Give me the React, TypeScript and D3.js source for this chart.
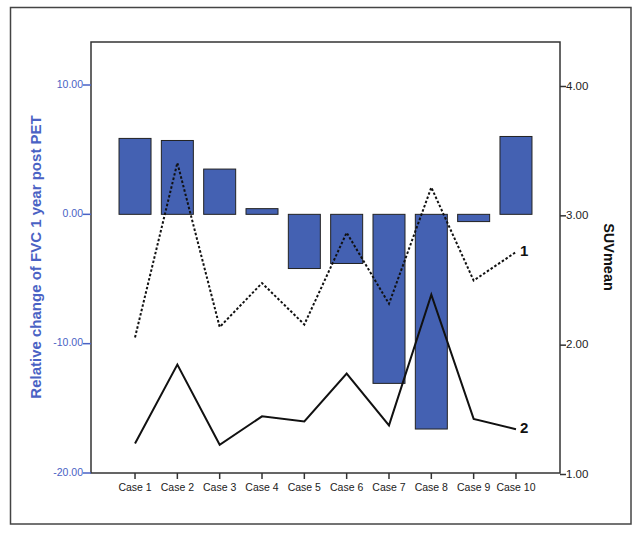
import * as d3 from "d3";

const cases = ["Case 1", "Case 2", "Case 3", "Case 4", "Case 5", "Case 6", "Case 7", "Case 8", "Case 9", "Case 10"];
const fvcChange = [5.87, 5.71, 3.5, 0.44, -4.19, -3.8, -13.07, -16.6, -0.56, 6.02];
const suvLine1 = [2.06, 3.41, 2.14, 2.48, 2.16, 2.87, 2.32, 3.22, 2.5, 2.72];
const suvLine2 = [1.24, 1.85, 1.23, 1.45, 1.41, 1.78, 1.38, 2.39, 1.43, 1.35];
const leftTicks = [10, 0, -10, -20];
const rightTicks = [4, 3, 2, 1];

const W = 641;
const H = 534;
const PLOT = { left: 91, right: 560, top: 42, bottom: 473 };
const BLUE_TEXT = "#4a62c4";
const BAR_FILL = "#4461b2";
const FONT = "'Liberation Sans', Arial, sans-serif";

export default function App() {
  const x = d3.scalePoint<string>().domain(cases).range([PLOT.left, PLOT.right]).padding(1.04);
  // left axis: -20 at bottom, 10 at y=85
  const yLeft = d3.scaleLinear().domain([-20, 10]).range([PLOT.bottom, 85]);
  const yRight = d3.scaleLinear().domain([1, 4]).range([474.5, 86.5]);
  const barW = 32;

  const line = d3
    .line<number>()
    .x((_, i) => x(cases[i]) as number)
    .y((d) => yRight(d));

  const last = cases.length - 1;

  return (
    <svg width={W} height={H} style={{ position: "absolute", left: 0, top: 0 }}>
      <rect x={0} y={0} width={W} height={H} fill="white" />
      {/* outer frame */}
      <rect x={10.5} y={7.5} width={620.5} height={516.5} fill="none" stroke="#444" strokeWidth={1.5} />

      {/* bars */}
      {fvcChange.map((v, i) => (
        <rect
          key={i}
          x={(x(cases[i]) as number) - barW / 2}
          y={yLeft(Math.max(0, v))}
          width={barW}
          height={Math.abs(yLeft(v) - yLeft(0))}
          fill={BAR_FILL}
          stroke="#222"
          strokeWidth={1}
        />
      ))}

      {/* lines */}
      <path d={line(suvLine1) ?? ""} fill="none" stroke="#111" strokeWidth={2} strokeDasharray="2.5,2" />
      <path d={line(suvLine2) ?? ""} fill="none" stroke="#111" strokeWidth={2} />
      <text x={(x(cases[last]) as number) + 4} y={yRight(suvLine1[last])} dominantBaseline="middle" fontFamily={FONT} fontWeight="bold" fontSize={15} fill="#111">1</text>
      <text x={(x(cases[last]) as number) + 4} y={yRight(suvLine2[last])} dominantBaseline="middle" fontFamily={FONT} fontWeight="bold" fontSize={15} fill="#111">2</text>

      {/* plot frame */}
      <rect x={PLOT.left} y={PLOT.top} width={PLOT.right - PLOT.left} height={PLOT.bottom - PLOT.top} fill="none" stroke="#333" strokeWidth={1.5} />

      {/* left axis */}
      {leftTicks.map((t) => (
        <g key={t}>
          <line x1={PLOT.left - 8} x2={PLOT.left} y1={yLeft(t)} y2={yLeft(t)} stroke={BLUE_TEXT} strokeWidth={1.5} />
          <text x={PLOT.left - 8} y={yLeft(t)} textAnchor="end" dominantBaseline="middle" fontFamily={FONT} fontSize={10.5} fill={BLUE_TEXT}>
            {t.toFixed(2)}
          </text>
        </g>
      ))}
      <text
        transform={`translate(37,257) rotate(-90)`}
        textAnchor="middle"
        dominantBaseline="middle"
        fontFamily={FONT}
        fontWeight="bold"
        fontSize={15}
        fill={BLUE_TEXT}
      >
        Relative change of FVC 1 year post PET
      </text>

      {/* right axis */}
      {rightTicks.map((t) => (
        <g key={t}>
          <line x1={PLOT.right} x2={PLOT.right + 6} y1={yRight(t)} y2={yRight(t)} stroke="#333" strokeWidth={1.5} />
          <text x={PLOT.right + 6} y={yRight(t)} dominantBaseline="middle" fontFamily={FONT} fontSize={11.5} fill="#222">
            {t.toFixed(2)}
          </text>
        </g>
      ))}
      <text
        transform={`translate(608,257) rotate(90)`}
        textAnchor="middle"
        dominantBaseline="middle"
        fontFamily={FONT}
        fontWeight="bold"
        fontSize={14.5}
        fill="#111"
      >
        SUVmean
      </text>

      {/* x axis */}
      {cases.map((c) => (
        <g key={c}>
          <line x1={x(c) as number} x2={x(c) as number} y1={PLOT.bottom} y2={PLOT.bottom + 6} stroke="#333" strokeWidth={1.5} />
          <text x={x(c) as number} y={488} textAnchor="middle" dominantBaseline="middle" fontFamily={FONT} fontSize={10.5} fill="#222">
            {c}
          </text>
        </g>
      ))}
    </svg>
  );
}
